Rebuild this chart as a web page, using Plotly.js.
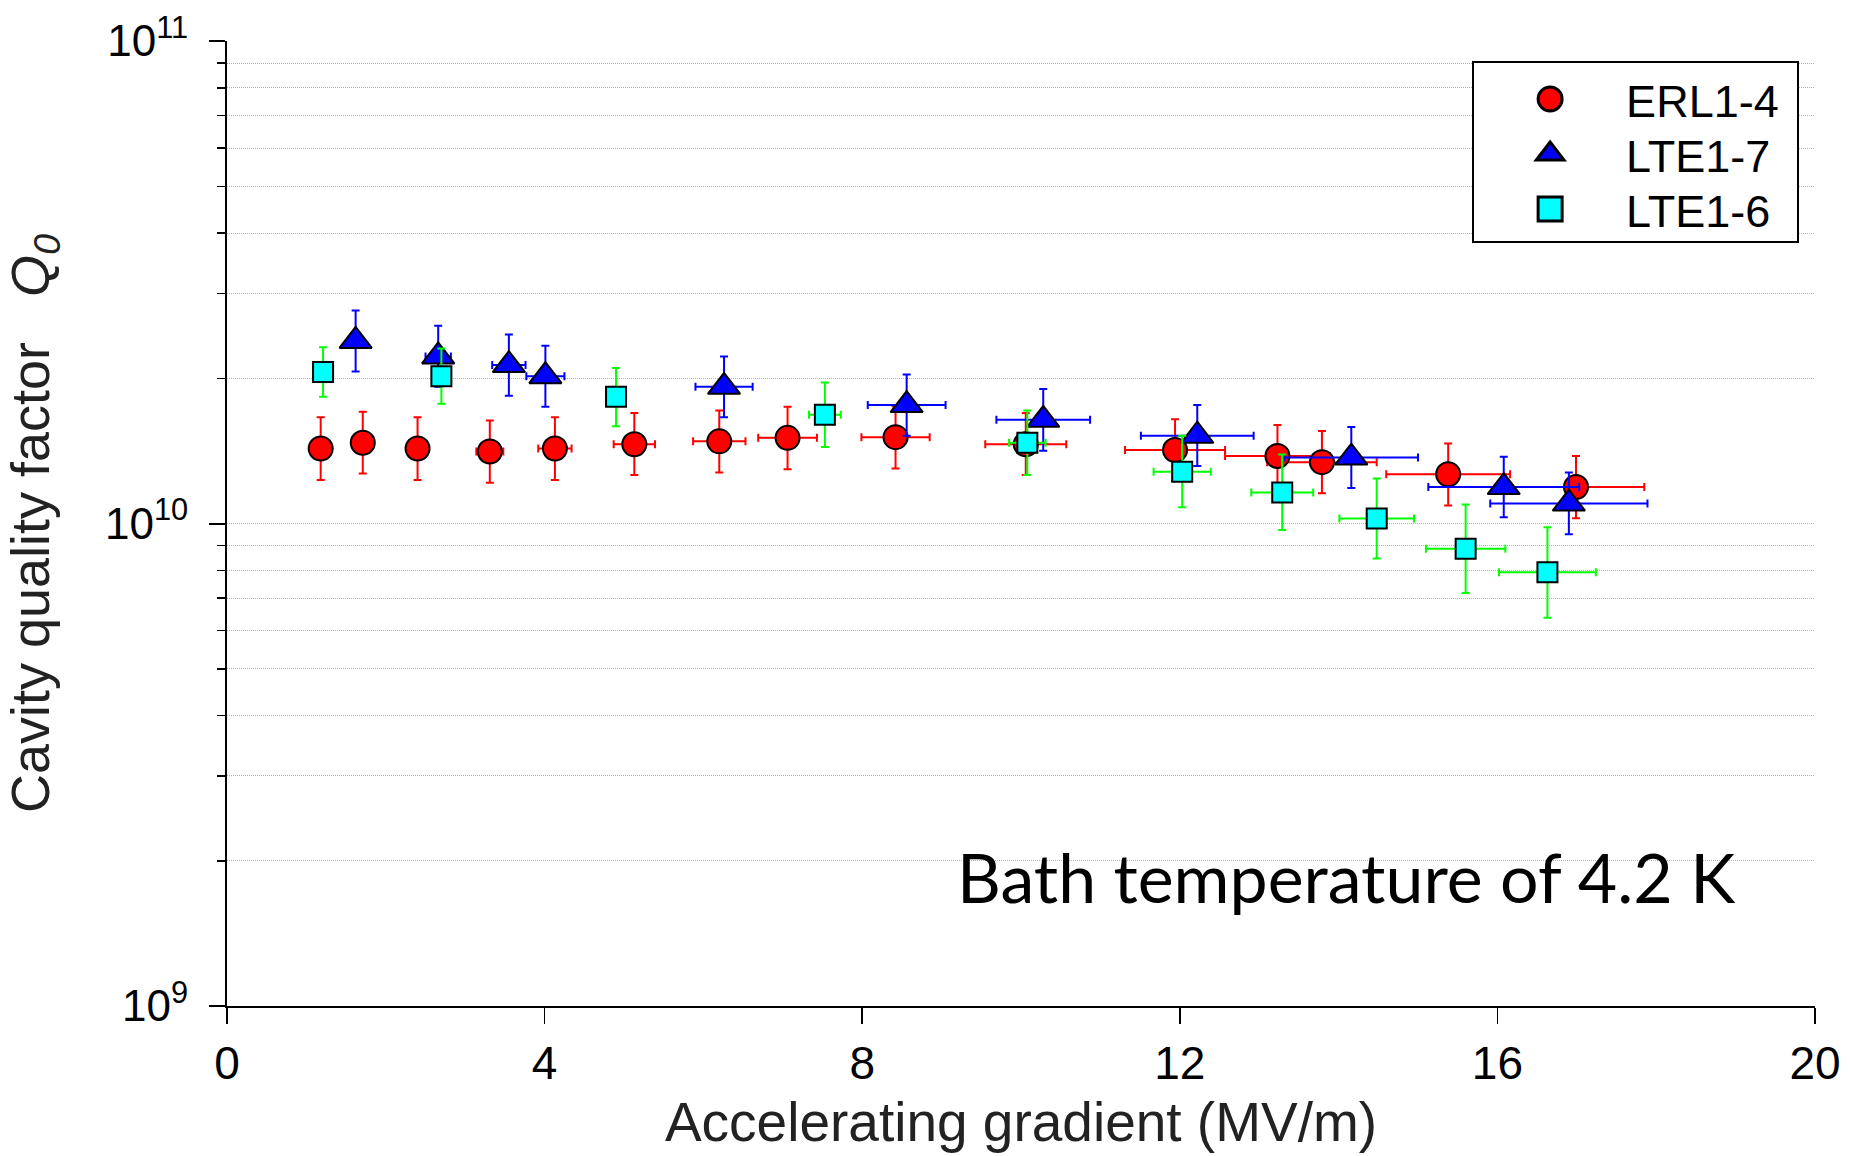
<!DOCTYPE html>
<html>
<head>
<meta charset="utf-8">
<script src="https://cdn.plot.ly/plotly-3.0.1.min.js"></script>
<style>
  html, body { margin: 0; padding: 0; background: #ffffff; }
  #chart { width: 1850px; height: 1156px; }
</style>
</head>
<body>
<div id="chart"></div>
<script>
// ---------------- data ----------------
// ERL1-4 (red circles)
const erlX      = [1.18, 1.71, 2.40, 3.31, 4.13, 5.13, 6.20, 7.06, 8.42, 10.06, 11.94, 13.23, 13.79, 15.38, 16.99];
const erlQ      = [1.43e10, 1.47e10, 1.43e10, 1.41e10, 1.43e10, 1.46e10, 1.48e10, 1.505e10, 1.51e10, 1.46e10, 1.42e10, 1.38e10, 1.34e10, 1.265e10, 1.19e10];
const erlQUp    = [0.23e10, 0.235e10, 0.23e10, 0.225e10, 0.23e10, 0.235e10, 0.235e10, 0.24e10, 0.24e10, 0.235e10, 0.225e10, 0.22e10, 0.215e10, 0.20e10, 0.19e10];
const erlQDown  = [0.20e10, 0.20e10, 0.20e10, 0.195e10, 0.20e10, 0.20e10, 0.205e10, 0.21e10, 0.21e10, 0.20e10, 0.195e10, 0.19e10, 0.185e10, 0.175e10, 0.165e10];
const erlXErr   = [0.06, 0.09, 0.12, 0.17, 0.21, 0.26, 0.33, 0.37, 0.43, 0.51, 0.63, 0.66, 0.69, 0.78, 0.86];

// LTE1-7 (blue triangles)
const lte7X     = [1.62, 2.66, 3.55, 4.01, 6.26, 8.56, 10.28, 12.22, 14.16, 16.08, 16.90];
const lte7Q     = [2.39e10, 2.22e10, 2.13e10, 2.02e10, 1.92e10, 1.76e10, 1.64e10, 1.52e10, 1.37e10, 1.19e10, 1.10e10];
const lte7QUp   = [0.375e10, 0.35e10, 0.335e10, 0.315e10, 0.30e10, 0.275e10, 0.26e10, 0.24e10, 0.215e10, 0.185e10, 0.175e10];
const lte7QDown = [0.325e10, 0.30e10, 0.29e10, 0.275e10, 0.26e10, 0.24e10, 0.225e10, 0.205e10, 0.185e10, 0.16e10, 0.15e10];
const lte7XErr  = [0.09, 0.16, 0.21, 0.24, 0.36, 0.49, 0.59, 0.71, 0.84, 0.95, 0.99];

// LTE1-6 (cyan squares, green error bars)
const lte6X     = [1.21, 2.70, 4.90, 7.53, 10.08, 12.03, 13.29, 14.48, 15.60, 16.63];
const lte6Q     = [2.06e10, 2.02e10, 1.83e10, 1.68e10, 1.47e10, 1.28e10, 1.16e10, 1.024e10, 0.887e10, 0.792e10];
const lte6QUp   = [0.26e10, 0.285e10, 0.27e10, 0.28e10, 0.245e10, 0.24e10, 0.23e10, 0.216e10, 0.208e10, 0.19e10];
const lte6QDown = [0.23e10, 0.25e10, 0.24e10, 0.24e10, 0.21e10, 0.20e10, 0.19e10, 0.178e10, 0.169e10, 0.154e10];
const lte6XErr  = [0.08, 0.085, 0.115, 0.20, 0.23, 0.36, 0.39, 0.47, 0.50, 0.61];

// series names
const seriesNames = ['ERL1-4', 'LTE1-7', 'LTE1-6'];

// axis ticks
const xTickVals  = [0, 4, 8, 12, 16, 20];
const yTickVals  = [1e9, 1e10, 1e11];
const yTickText  = ['10<sup>9</sup>', '10<sup>10</sup>', '10<sup>11</sup>'];
const yMinorVals = [2e9, 3e9, 4e9, 5e9, 6e9, 7e9, 8e9, 9e9, 2e10, 3e10, 4e10, 5e10, 6e10, 7e10, 8e10, 9e10];

// ---------------- styling ----------------
const FONT = 'Liberation Sans, Arial, Helvetica, sans-serif';
const GRID = '#b4b4b4';

function errY(up, down, color) {
  return { type: 'data', symmetric: false, array: up, arrayminus: down,
           color: color, thickness: 2, width: 4 };
}
function errX(arr, color) {
  return { type: 'data', array: arr, color: color, thickness: 2, width: 4 };
}

const traces = [
  {
    name: seriesNames[0] + '&nbsp;', x: erlX, y: erlQ, type: 'scatter', mode: 'markers',
    marker: { symbol: 'circle', size: 24, color: '#ff0000', line: { color: '#000000', width: 2 } },
    error_y: errY(erlQUp, erlQDown, '#ff0000'),
    error_x: errX(erlXErr, '#ff0000')
  },
  {
    name: seriesNames[1] + '&nbsp;', x: lte7X, y: lte7Q, type: 'scatter', mode: 'markers',
    marker: { symbol: 'triangle-up', size: 28, color: '#0000ff', line: { color: '#000000', width: 2 } },
    error_y: errY(lte7QUp, lte7QDown, '#0000ff'),
    error_x: errX(lte7XErr, '#0000ff')
  },
  {
    name: seriesNames[2] + '&nbsp;', x: lte6X, y: lte6Q, type: 'scatter', mode: 'markers',
    marker: { symbol: 'square', size: 20, color: '#00ffff', line: { color: '#000000', width: 2 } },
    error_y: errY(lte6QUp, lte6QDown, '#00ff00'),
    error_x: errX(lte6XErr, '#00ff00')
  }
];

const layout = {
  width: 1850, height: 1156,
  margin: { l: 227, r: 35, t: 41, b: 150 },
  paper_bgcolor: '#ffffff', plot_bgcolor: '#ffffff',
  font: { family: FONT, color: '#000000' },
  showlegend: true,
  xaxis: {
    range: [0, 20], tickmode: 'array', tickvals: xTickVals,
    ticks: 'outside', ticklen: 16, tickwidth: 1.5, tickcolor: '#000000',
    showline: true, linecolor: '#000000', linewidth: 2,
    showgrid: false, zeroline: false,
    tickfont: { family: FONT, size: 46, color: '#000000' },
    ticklabelstandoff: 0,
    title: { text: 'Accelerating gradient (MV/m)', font: { family: FONT, size: 55, color: '#222222' }, standoff: 14 }
  },
  yaxis: {
    type: 'log', range: [9, 11], tickmode: 'array', tickvals: yTickVals, ticktext: yTickText,
    ticks: 'outside', ticklen: 16, tickwidth: 2, tickcolor: '#000000',
    showline: true, linecolor: '#000000', linewidth: 2,
    showgrid: true, gridcolor: GRID, gridwidth: 1, griddash: '1px,1px',
    zeroline: false,
    tickfont: { family: FONT, size: 44, color: '#000000' },
    ticklabelstandoff: 12,
    minor: {
      tickmode: 'array', tickvals: yMinorVals,
      ticks: 'outside', ticklen: 8, tickwidth: 1.5, tickcolor: '#000000',
      showgrid: true, gridcolor: GRID, gridwidth: 1, griddash: '1px,1px'
    },
    title: { text: 'Cavity quality factor&nbsp;&nbsp; <i>Q</i><sub><i>0</i></sub>', font: { family: FONT, size: 54, color: '#222222' }, standoff: 38 }
  },
  legend: {
    x: 0.99, xanchor: 'right', y: 0.979, yanchor: 'top',
    bgcolor: '#ffffff', bordercolor: '#000000', borderwidth: 2,
    font: { family: FONT, size: 45, color: '#000000' },
    itemwidth: 142
  },
  annotations: [{
    text: 'Bath temperature of 4.2 K', xref: 'paper', yref: 'paper',
    x: 0.705, y: 0.134, xanchor: 'center', yanchor: 'middle', showarrow: false,
    font: { family: 'Lato, Liberation Sans, sans-serif', size: 68, color: '#000000' }
  }]
};

Plotly.newPlot('chart', traces, layout, { staticPlot: true, displayModeBar: false }).then(function () {
  // enlarge legend symbols (Plotly caps them at 16px)
  document.querySelectorAll('.legendpoints path.scatterpts').forEach(function (p) {
    const t = p.getAttribute('transform') || '';
    p.setAttribute('transform', t + ' scale(1.5)');
  });
  // tighten legend row spacing to match the reference
  const rows = Array.from(document.querySelectorAll('.legend .traces'));
  const re = /translate\(\s*([-\d.e]+)[ ,]+([-\d.e]+)\s*\)/;
  const pos = rows.map(function (g) {
    const m = re.exec(g.getAttribute('transform') || '');
    return m ? [parseFloat(m[1]), parseFloat(m[2])] : null;
  });
  if (pos.length > 1 && pos.every(Boolean)) {
    const oldGap = pos[1][1] - pos[0][1];
    const newGap = 55;
    rows.forEach(function (g, i) {
      g.setAttribute('transform', 'translate(' + pos[i][0] + ',' + (pos[0][1] + i * newGap) + ')');
    });
    const shrink = (oldGap - newGap) * (rows.length - 1) + 4;
    document.querySelectorAll('.legend rect.bg').forEach(function (r) {
      const h = parseFloat(r.getAttribute('height'));
      r.setAttribute('height', h - shrink);
    });
  }
});
</script>
</body>
</html>
